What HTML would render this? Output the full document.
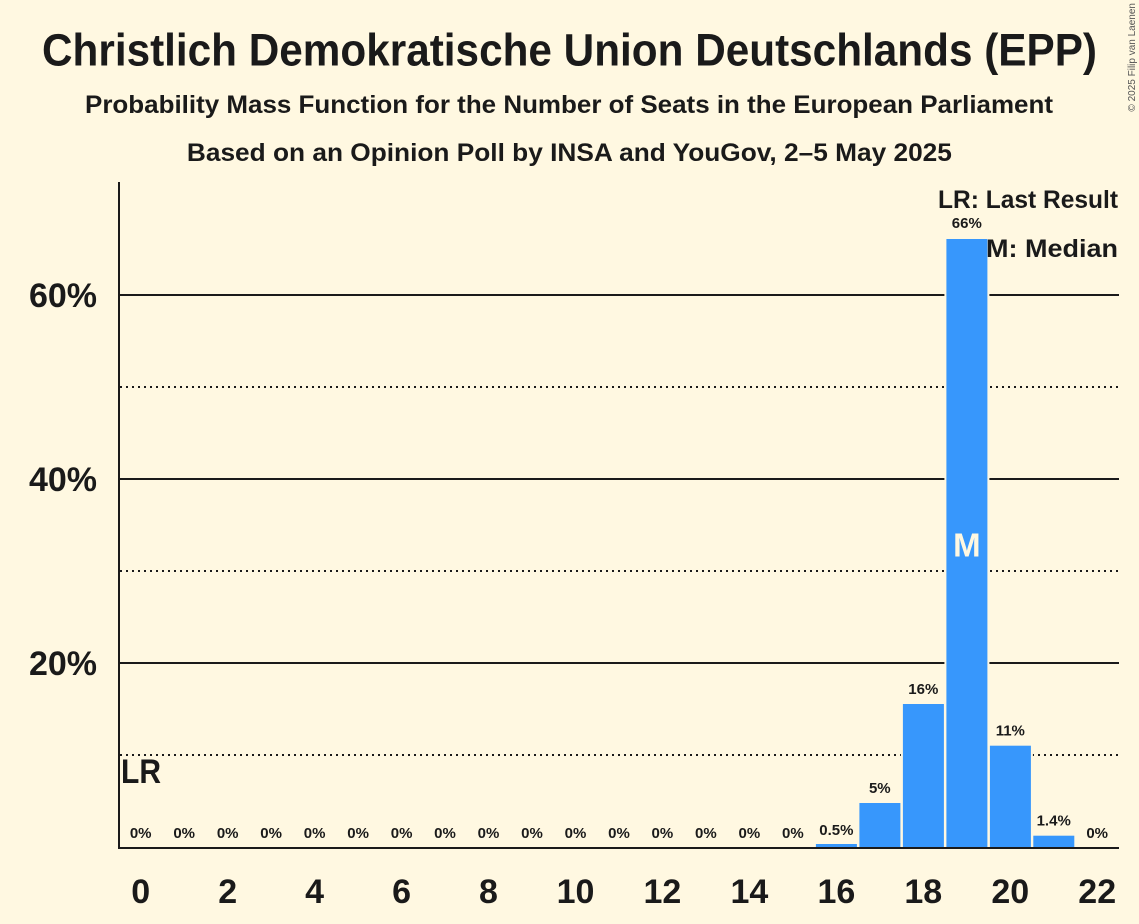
<!DOCTYPE html>
<html><head><meta charset="utf-8"><style>
html,body{margin:0;padding:0;background:#FFF8E1;}
svg{display:block;}
text{font-family:"Liberation Sans",Arial,sans-serif;fill:#1a1a1a;}
</style></head><body>
<svg width="1139" height="924" viewBox="0 0 1139 924" xmlns="http://www.w3.org/2000/svg">
<rect width="1139" height="924" fill="#FFF8E1"/>
<text x="569.5" y="65.5" font-size="45" font-weight="bold" text-anchor="middle" textLength="1055" lengthAdjust="spacingAndGlyphs">Christlich Demokratische Union Deutschlands (EPP)</text>
<text x="569" y="113" font-size="25" font-weight="bold" text-anchor="middle" textLength="968" lengthAdjust="spacingAndGlyphs">Probability Mass Function for the Number of Seats in the European Parliament</text>
<text x="569.4" y="161" font-size="25" font-weight="bold" text-anchor="middle" textLength="765" lengthAdjust="spacingAndGlyphs">Based on an Opinion Poll by INSA and YouGov, 2–5 May 2025</text>
<text transform="translate(1135,3) rotate(-90)" x="0" y="0" font-size="10" text-anchor="end" style="fill:#555">© 2025 Filip van Laenen</text>

<!-- grid -->
<g stroke="#1a1a1a" stroke-width="2">
<line x1="119" y1="295" x2="1119" y2="295"/>
<line x1="119" y1="479" x2="1119" y2="479"/>
<line x1="119" y1="663" x2="1119" y2="663"/>
</g>
<g stroke="#1a1a1a" stroke-width="2" stroke-dasharray="2,4">
<line x1="120" y1="387" x2="1119" y2="387"/>
<line x1="120" y1="571" x2="1119" y2="571"/>
<line x1="120" y1="755" x2="1119" y2="755"/>
</g>

<!-- y labels -->
<g font-size="34" font-weight="bold" text-anchor="end">
<text x="97" y="307">60%</text>
<text x="97" y="491">40%</text>
<text x="97" y="675">20%</text>
</g>

<!-- bar backgrounds -->
<g fill="#FFF8E1">
<rect x="813.9" y="842" width="45" height="5"/>
<rect x="857.4" y="801" width="45" height="46"/>
<rect x="900.9" y="702" width="45" height="145"/>
<rect x="944.4" y="237" width="45" height="610"/>
<rect x="987.9" y="743.7" width="45" height="103.3"/>
<rect x="1031.3" y="833.7" width="45" height="13.3"/>
</g>
<g fill="#3797FC">
<rect x="815.9" y="844" width="41" height="3"/>
<rect x="859.4" y="803" width="41" height="44"/>
<rect x="902.9" y="704" width="41" height="143"/>
<rect x="946.4" y="239" width="41" height="608"/>
<rect x="989.9" y="745.7" width="41" height="101.3"/>
<rect x="1033.3" y="835.7" width="41" height="11.3"/>
</g>
<text x="966.9" y="556.7" font-size="33" font-weight="bold" text-anchor="middle" style="fill:#FFF8E1">M</text>

<!-- axes -->
<line x1="119" y1="182" x2="119" y2="849" stroke="#1a1a1a" stroke-width="2"/>
<line x1="118" y1="848" x2="1119" y2="848" stroke="#1a1a1a" stroke-width="2"/>

<!-- value labels -->
<g font-size="15" font-weight="bold" text-anchor="middle">
<text x="140.7" y="838">0%</text>
<text x="184.2" y="838">0%</text>
<text x="227.7" y="838">0%</text>
<text x="271.1" y="838">0%</text>
<text x="314.6" y="838">0%</text>
<text x="358.1" y="838">0%</text>
<text x="401.6" y="838">0%</text>
<text x="445.0" y="838">0%</text>
<text x="488.5" y="838">0%</text>
<text x="532.0" y="838">0%</text>
<text x="575.5" y="838">0%</text>
<text x="619.0" y="838">0%</text>
<text x="662.4" y="838">0%</text>
<text x="705.9" y="838">0%</text>
<text x="749.4" y="838">0%</text>
<text x="792.9" y="838">0%</text>
<text x="836.4" y="835">0.5%</text>
<text x="879.8" y="793">5%</text>
<text x="923.3" y="694">16%</text>
<text x="966.8" y="228">66%</text>
<text x="1010.3" y="735.7">11%</text>
<text x="1053.7" y="825.7">1.4%</text>
<text x="1097.2" y="838">0%</text>
</g>

<!-- x tick labels -->
<g font-size="34" font-weight="bold" text-anchor="middle">
<text x="140.7" y="903">0</text>
<text x="227.7" y="903">2</text>
<text x="314.6" y="903">4</text>
<text x="401.6" y="903">6</text>
<text x="488.5" y="903">8</text>
<text x="575.5" y="903">10</text>
<text x="662.4" y="903">12</text>
<text x="749.4" y="903">14</text>
<text x="836.4" y="903">16</text>
<text x="923.3" y="903">18</text>
<text x="1010.3" y="903">20</text>
<text x="1097.2" y="903">22</text>
</g>

<!-- LR marker -->
<text x="121" y="783" font-size="34" font-weight="bold" textLength="40" lengthAdjust="spacingAndGlyphs">LR</text>

<!-- legend -->
<text x="1118" y="208" font-size="25" font-weight="bold" text-anchor="end" textLength="180" lengthAdjust="spacingAndGlyphs">LR: Last Result</text>
<text x="1118" y="257" font-size="25" font-weight="bold" text-anchor="end" textLength="132" lengthAdjust="spacingAndGlyphs">M: Median</text>
</svg>
</body></html>
